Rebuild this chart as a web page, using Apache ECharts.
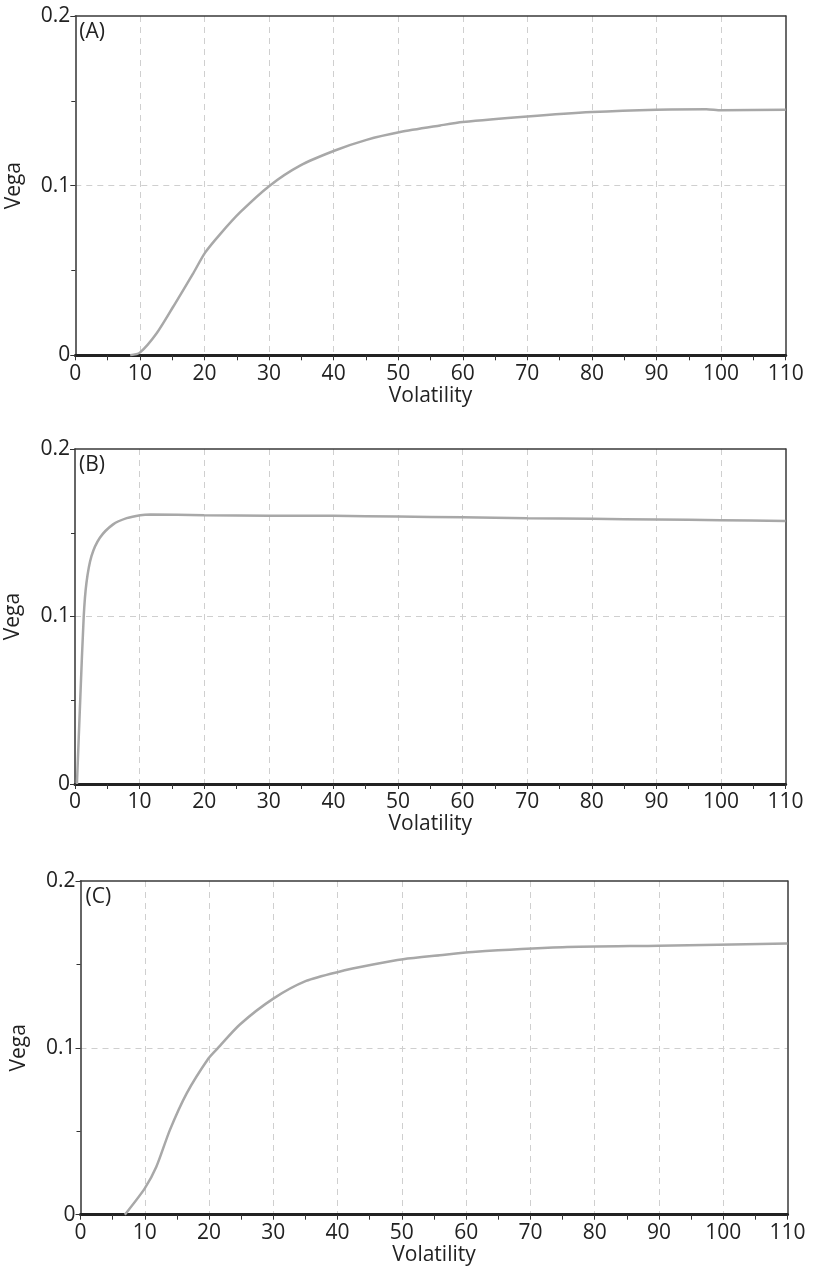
<!DOCTYPE html>
<html>
<head>
<meta charset="utf-8">
<script src="https://cdn.jsdelivr.net/npm/echarts@6/dist/echarts.min.js"></script>
<style>
html,body{margin:0;padding:0;background:#fff;}
#chart{width:815px;height:1279px;}
</style>
</head>
<body>
<div id="chart"></div>
<script>
// ---- data ----
var panelLabels = ['(A)', '(B)', '(C)'];
var xTicks = [0, 10, 20, 30, 40, 50, 60, 70, 80, 90, 100, 110];
var yTicks = [0, 0.1, 0.2];

var volA  = [8.5, 10, 12.6, 15.2, 18.3, 20.1, 22.4, 25.5, 30.1, 34.8, 40.2, 45.1, 50.3, 56.5, 60, 70, 80, 90, 97.7, 100, 110];
var vegaA = [0, 0.0016, 0.013, 0.0289, 0.0486, 0.0605, 0.0713, 0.0842, 0.1, 0.1118, 0.1207, 0.127, 0.1316, 0.1355, 0.1375, 0.1408, 0.1434, 0.1448, 0.145, 0.1444, 0.1448];

var volB  = [0.3, 0.83, 1.35, 1.77, 2.55, 3.85, 5.9, 8.0, 10.1, 11.7, 20, 30, 40, 50, 60, 70, 80, 90, 100, 110];
var vegaB = [0, 0.0523, 0.1, 0.12, 0.136, 0.147, 0.155, 0.1587, 0.1605, 0.1609, 0.1605, 0.1602, 0.1601, 0.1597, 0.1592, 0.1587, 0.1583, 0.1579, 0.1575, 0.157];

var volC  = [6.9, 10, 11.8, 13.9, 16.5, 19.9, 21.4, 24.8, 30, 35.1, 40.1, 45.5, 50.2, 55.9, 61, 75, 90, 110];
var vegaC = [0, 0.0158, 0.0287, 0.0507, 0.0726, 0.0936, 0.1, 0.114, 0.1295, 0.1401, 0.1455, 0.1499, 0.1531, 0.1555, 0.1575, 0.1603, 0.1612, 0.1625];

var xName = 'Volatility';
var yName = 'Vega';

// ---- layout ----
var FONT = 'Open Sans';
var FS = 21;
var grids = [
  {left: 75.3, top: 16, width: 710.4, height: 339.3},
  {left: 75.0, top: 449, width: 710.6, height: 335},
  {left: 80.5, top: 881, width: 707, height: 333.7}
];
var seriesX = [volA, volB, volC];
var seriesY = [vegaA, vegaB, vegaC];

function pairs(xs, ys) { return xs.map(function (x, i) { return [x, ys[i]]; }); }

var dashed = {color: '#cfcfcf', width: 1, type: [6, 5]};

var option = {
  backgroundColor: '#fff',
  animation: false,
  grid: grids.map(function (g) {
    return Object.assign({show: false, containLabel: false, outerBoundsMode: 'none'}, g);
  }),
  xAxis: [].concat(grids.map(function (g, i) {
    return {
      type: 'value', gridIndex: i,
      min: xTicks[0], max: xTicks[xTicks.length - 1], interval: xTicks[1] - xTicks[0],
      name: xName, nameLocation: 'middle', nameGap: 30,
      nameTextStyle: {fontFamily: FONT, fontSize: FS, color: '#222'},
      axisLine: {show: true, onZero: false, lineStyle: {color: '#222', width: 3}},
      axisTick: {show: true, inside: false, length: 5, lineStyle: {color: '#333', width: 1}},
      minorTick: {show: true, splitNumber: 2, length: 5, lineStyle: {color: '#333', width: 1}},
      axisLabel: {fontFamily: FONT, fontSize: FS, color: '#222', margin: 8, showMinLabel: true, showMaxLabel: true},
      splitLine: {show: true, showMinLine: false, showMaxLine: false, lineStyle: dashed}
    };
  }), grids.map(function (g, i) {
    // top frame line
    return {
      type: 'value', gridIndex: i, position: 'top',
      min: xTicks[0], max: xTicks[xTicks.length - 1],
      axisLine: {show: true, onZero: false, lineStyle: {color: '#3a3a3a', width: 1.5}},
      axisTick: {show: false}, axisLabel: {show: false}, splitLine: {show: false}
    };
  })),
  yAxis: [].concat(grids.map(function (g, i) {
    return {
      type: 'value', gridIndex: i,
      min: yTicks[0], max: yTicks[yTicks.length - 1], interval: yTicks[1] - yTicks[0],
      name: yName, nameLocation: 'middle', nameGap: 51,
      nameTextStyle: {fontFamily: FONT, fontSize: FS, color: '#222'},
      axisLine: {show: true, onZero: false, lineStyle: {color: '#333', width: 1.5}},
      axisTick: {show: true, inside: false, length: 5, lineStyle: {color: '#333', width: 1}},
      minorTick: {show: true, splitNumber: 2, length: 4, lineStyle: {color: '#333', width: 1}},
      axisLabel: {fontFamily: FONT, fontSize: FS, color: '#222', margin: 5,
        formatter: function (v) { return v === 0 ? '0' : String(+v.toFixed(2)); }},
      splitLine: {show: true, showMinLine: false, showMaxLine: false, lineStyle: dashed}
    };
  }), grids.map(function (g, i) {
    // right frame line
    return {
      type: 'value', gridIndex: i, position: 'right',
      min: yTicks[0], max: yTicks[yTicks.length - 1],
      axisLine: {show: true, onZero: false, lineStyle: {color: '#3a3a3a', width: 1.5}},
      axisTick: {show: false}, axisLabel: {show: false}, splitLine: {show: false}
    };
  })),
  series: grids.map(function (g, i) {
    return {
      type: 'line', xAxisIndex: i, yAxisIndex: i,
      data: pairs(seriesX[i], seriesY[i]),
      showSymbol: false, smooth: 0.25,
      lineStyle: {color: '#a8a8a8', width: 2.5},
      z: 1
    };
  }),
  graphic: grids.map(function (g, i) {
    return {
      type: 'text', left: g.left + (i === 2 ? 5 : 4), top: g.top + 6,
      style: {text: panelLabels[i], font: FS + 'px "' + FONT + '"', fill: '#222'},
      z: 10
    };
  })
};

var chart = echarts.init(document.getElementById('chart'), null, {renderer: 'canvas'});
chart.setOption(option);
</script>
</body>
</html>
